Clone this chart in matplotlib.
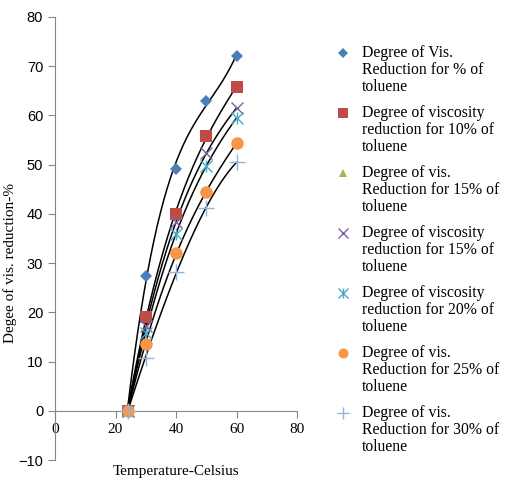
import numpy as np
import matplotlib
matplotlib.use("Agg")
import matplotlib.pyplot as plt

plt.rcParams['font.family'] = ['Liberation Serif', 'DejaVu Serif']

# temperatures (Celsius) and degree of viscosity reduction (%)
temps = [24, 30, 40, 50, 60]
tol_0 = [0, 27.3, 49.1, 62.9, 72.1]
tol_10 = [0, 19.1, 39.9, 55.8, 65.8]
tol_15a = [0, np.nan, np.nan, np.nan, np.nan]
tol_15b = [0, 17.3, 38.3, 52.3, 61.5]
tol_20 = [0, 15.9, 36.0, 49.7, 59.5]
tol_25 = [0, 13.6, 32.0, 44.4, 54.4]
tol_30 = [0, 10.8, 28.1, 41.2, 50.5]

labels = ["Degree of Vis.\nReduction for % of\ntoluene",
          "Degree of viscosity\nreduction for 10% of\ntoluene",
          "Degree of vis.\nReduction for 15% of\ntoluene",
          "Degree of viscosity\nreduction for 15% of\ntoluene",
          "Degree of viscosity\nreduction for 20% of\ntoluene",
          "Degree of vis.\nReduction for 25% of\ntoluene",
          "Degree of vis.\nReduction for 30% of\ntoluene"]

series = [tol_0, tol_10, tol_15a, tol_15b, tol_20, tol_25, tol_30]
styles = [dict(marker='D', color='#4A7EBB', ms=6.5, mew=0),
          dict(marker='s', color='#BE4B48', ms=9, mew=0),
          dict(marker='^', color='#98B954', ms=8, mew=0),
          dict(marker='x', color='#7D60A0', ms=9, mew=1),
          dict(marker='x', color='#46AAC5', ms=9, mew=1),
          dict(marker='o', color='#F79646', ms=9, mew=0),
          dict(marker='+', color='#95B3D7', ms=11, mew=1)]
asterisk = 4

fig = plt.figure(figsize=(5.29, 4.92), dpi=100)
ax = fig.add_axes([55/529, 1-460/492, (297-55)/529, (460-17)/492])

t = np.array(temps, dtype=float)
for i, (vals, st) in enumerate(zip(series, styles)):
    v = np.array(vals, dtype=float)
    ok = ~np.isnan(v)
    if ok.sum() > 3:
        # 3rd order polynomial trendline
        p = np.polyfit(t[ok], v[ok], 3)
        xs = np.linspace(t[ok].min(), t[ok].max(), 200)
        ax.plot(xs, np.polyval(p, xs), color='black', lw=1.1, zorder=2)
    ax.plot(t, v, ls='none', zorder=3, **st)
    if i == asterisk:
        ax.plot(t, v, ls='none', marker='|', color=st['color'], ms=9, mew=1, zorder=3)

ax.set_xlim(0, 80)
ax.set_ylim(-10, 80)
ax.set_xticks([0, 20, 40, 60, 80])
ax.set_yticks(range(-10, 81, 10))
ax.spines['bottom'].set_position(('data', 0))
ax.spines['top'].set_visible(False)
ax.spines['right'].set_visible(False)
for s in ['left', 'bottom']:
    ax.spines[s].set_color('#868686')
ax.tick_params(direction='out', length=5, color='#868686', labelsize=11)
for lab in ax.get_yticklabels():
    lab.set_fontfamily('Liberation Sans')
    lab.set_fontsize(10.5)

fig.text(10/529, 1-263/492, "Degee of vis. reduction-%", rotation=90,
         ha='center', va='center', fontsize=11)
fig.text(176/529, 1-472/492, "Temperature-Celsius", ha='center', va='center',
         fontsize=11)

# legend drawn in pixel coordinates
lg = fig.add_axes([0, 0, 1, 1], facecolor='none')
lg.set_xlim(0, 529)
lg.set_ylim(492, 0)
lg.axis('off')
for i, (st, lab) in enumerate(zip(styles, labels)):
    y0 = 53 + 60 * i
    s = dict(st)
    s['ms'] = s['ms'] * 0.8
    lg.plot([343], [y0], ls='none', **s)
    if i == asterisk:
        lg.plot([343], [y0], ls='none', marker='|', color=st['color'],
                ms=s['ms'], mew=1)
    lg.text(362, y0 - 8, lab, ha='left', va='top', fontsize=11.3,
            linespacing=1.1, transform=lg.transData)

fig.savefig("out.png", dpi=100)
